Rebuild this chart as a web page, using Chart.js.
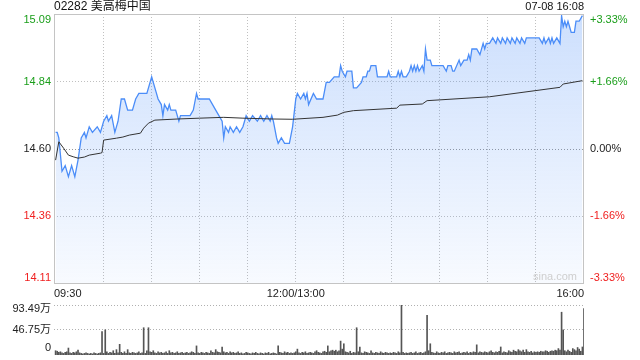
<!DOCTYPE html>
<html><head><meta charset="utf-8">
<script src="https://cdn.jsdelivr.net/npm/chart.js@4/dist/chart.umd.min.js"></script>
<style>
html,body{margin:0;padding:0;background:#fff;width:640px;height:360px;overflow:hidden;}
#c1{position:absolute;left:0;top:0;}
#c2{position:absolute;left:0;top:300px;}
</style></head><body>
<canvas id="c1" width="640" height="300"></canvas>
<canvas id="c2" width="640" height="60"></canvas>
<script>
const title = "02282 美高梅中国";
const stamp = "07-08 16:08";
const prevClose = 14.60;
const priceMin = 14.114, priceMax = 15.086;
const leftTickValues = [15.09, 14.84, 14.60, 14.36, 14.11];
const leftTickLabels = ["15.09", "14.84", "14.60", "14.36", "14.11"];
const rightTickLabels = ["+3.33%", "+1.66%", "0.00%", "-1.66%", "-3.33%"];
const timeLabels = ["09:30", "12:00/13:00", "16:00"];
const timeLabelMinutes = [0, 150, 330];
const volTickValues = [93.49, 46.75, 0];
const volTickLabels = ["93.49万", "46.75万", "0"];

const priceTimes = [0,1,2,4,6,8,10,12,14,16,18,19,21,23,26,28,30,32,33,35,37,39,41,43,45,48,50,52,57,60,61,63,64,66,67,68,70,71,72,75,77,78,84,86,88,89,96,100,102,104,105,106,108,109,111,113,115,117,118,119,121,123,126,128,130,132,134,135,136,138,139,141,143,146,148,150,151,153,155,156,157,158,161,163,167,169,171,174,177,178,179,181,182,185,186,188,191,192,194,195,196,197,200,201,207,208,209,213,214,215,216,217,219,221,222,223,224,225,226,227,229,230,231,232,234,235,242,244,245,247,248,249,252,253,255,257,258,259,260,263,265,267,268,269,271,273,275,276,278,279,281,282,284,285,287,288,290,291,293,294,302,304,305,306,308,309,310,311,313,315,316,317,318,319,320,321,322,324,325,327,329];
const prices = [14.66,14.66,14.64,14.52,14.54,14.50,14.54,14.50,14.56,14.64,14.66,14.64,14.68,14.66,14.68,14.66,14.70,14.72,14.70,14.72,14.66,14.70,14.78,14.78,14.74,14.74,14.78,14.80,14.80,14.86,14.84,14.80,14.78,14.76,14.72,14.76,14.74,14.76,14.74,14.74,14.70,14.72,14.72,14.74,14.80,14.78,14.78,14.74,14.72,14.70,14.64,14.68,14.66,14.68,14.66,14.68,14.66,14.68,14.70,14.72,14.70,14.72,14.70,14.72,14.70,14.72,14.70,14.72,14.70,14.64,14.62,14.64,14.62,14.62,14.68,14.78,14.80,14.78,14.80,14.78,14.80,14.76,14.80,14.78,14.78,14.84,14.84,14.86,14.86,14.90,14.88,14.86,14.88,14.88,14.82,14.82,14.84,14.86,14.86,14.88,14.88,14.90,14.90,14.86,14.86,14.88,14.86,14.86,14.88,14.86,14.88,14.86,14.86,14.88,14.90,14.88,14.90,14.88,14.90,14.88,14.90,14.88,14.96,14.92,14.92,14.90,14.90,14.88,14.90,14.90,14.88,14.88,14.92,14.90,14.92,14.92,14.94,14.92,14.96,14.96,14.94,14.98,14.96,14.98,14.98,15.00,14.98,15.00,14.98,15.00,14.98,15.00,14.98,15.00,14.98,15.00,14.98,15.00,14.98,15.00,15.00,14.98,15.00,14.98,15.00,14.98,15.00,14.98,15.00,14.98,15.08,15.04,15.06,15.04,15.06,15.04,15.02,15.02,15.06,15.06,15.08];

const avgTimes = [0,2,5,8,11,14,18,21,28,29,30,38,42,46,53,55,58,62,76,90,105,117,136,148,167,176,180,186,213,215,229,232,271,315,317,329];
const avgPrices = [14.56,14.626,14.603,14.578,14.572,14.567,14.571,14.578,14.585,14.587,14.632,14.639,14.643,14.650,14.657,14.675,14.693,14.704,14.708,14.711,14.714,14.711,14.708,14.707,14.714,14.722,14.732,14.738,14.747,14.758,14.762,14.774,14.788,14.822,14.834,14.846];

const volumes = [
8,7,5,6,4,3,5,6,13,4,
3,5,4,6,9,4,3,2,3,4,
3,2,3,2,4,3,2,3,4,44,
3,47,6,3,5,4,8,3,10,4,
20,5,3,6,3,10,4,3,5,4,
3,4,6,3,4,51,3,8,51,6,
5,8,4,3,6,4,5,3,4,6,
3,8,4,5,3,4,6,3,4,5,
3,4,5,3,4,6,5,3,17,4,
3,5,4,3,5,4,3,8,5,4,
10,6,5,4,15,6,4,5,3,6,
4,5,3,4,6,3,4,2,3,5,
4,3,2,4,3,5,3,2,4,3,
2,4,3,5,2,3,4,3,2,17,
5,4,3,6,4,5,3,4,3,4,
6,11,4,3,5,4,6,3,4,5,
4,3,6,8,5,4,3,6,7,5,
17,6,8,9,7,9,6,8,26,11,
21,6,5,4,7,3,5,4,51,6,
15,4,3,6,5,4,3,8,4,3,
5,4,3,6,4,3,5,4,3,4,
3,5,4,3,6,4,93.49,5,3,4,
3,4,5,3,4,6,3,4,5,3,
4,6,74,8,21,5,4,3,6,4,
3,5,4,6,3,4,5,4,3,6,
4,5,6,3,4,5,4,6,3,5,
4,6,5,19,4,6,5,4,6,5,
4,6,8,5,4,6,5,7,15,4,
6,5,4,8,6,5,9,7,6,10,
8,6,9,5,10,6,5,7,4,6,
5,6,5,7,6,6,8,7,5,7,
8,7,9,8,12,9,80,47,8,6,
9,7,5,12,10,8,14,11,7,15,
87];

const FONT = "'Liberation Sans','Noto Sans CJK SC',Arial,sans-serif";
const GREEN = '#1a9e1a', RED = '#f02020', DARK = '#222';
const labelColors = [GREEN, GREEN, DARK, RED, RED];
const gridMinutes = [30,60,90,120,150,180,210,240,270,300];

const priceDataset = priceTimes.map((t,i)=>({x:t,y:prices[i]}));
const avgDataset = avgTimes.map((t,i)=>({x:t,y:avgPrices[i]}));
const volDataset = volumes.map((v,i)=>({x:i,y:v}));

const priceLabels = {
  id:'priceLabels',
  afterDraw(chart){
    const {ctx, chartArea:a, scales:{x,y}} = chart;
    ctx.save();
    ctx.strokeStyle = '#c4c4c4'; ctx.lineWidth = 1; ctx.setLineDash([]);
    ctx.strokeRect(Math.round(a.left)+0.5, Math.round(a.top)+0.5, Math.round(a.right-a.left)-1, Math.round(a.bottom-a.top)-1);
    ctx.font = '11px ' + FONT;
    ctx.textBaseline = 'middle';
    leftTickValues.forEach((v,i)=>{
      let py = y.getPixelForValue(v);
      py = Math.min(Math.max(py, a.top+6), a.bottom-6);
      ctx.fillStyle = labelColors[i];
      ctx.textAlign = 'right';
      ctx.fillText(leftTickLabels[i], a.left-3, py);
      ctx.textAlign = 'left';
      ctx.fillText(rightTickLabels[i], a.right+6, py);
    });
    ctx.fillStyle = '#222';
    timeLabelMinutes.forEach((m,i)=>{
      const px = x.getPixelForValue(m);
      const last = i===timeLabels.length-1;
      ctx.textAlign = i===0 ? 'left' : (last ? 'right' : 'center');
      ctx.fillText(timeLabels[i], i===0 ? a.left : (last ? a.right : px), a.bottom+10);
    });
    ctx.font = '12px ' + FONT;
    ctx.fillStyle = '#111';
    ctx.textAlign = 'left';
    ctx.fillText(title, a.left, 7);
    ctx.textAlign = 'right';
    ctx.font = '11px ' + FONT;
    ctx.fillText(stamp, a.right, 7);
    ctx.fillStyle = '#cfcfcf';
    ctx.fillText('sina.com', a.right-7, a.bottom-7);
    ctx.restore();
  }
};

new Chart(document.getElementById('c1'), {
  type:'line',
  data:{datasets:[
    {data:avgDataset, borderColor:'#333', borderWidth:1, pointRadius:0, fill:false, tension:0, order:0},
    {data:priceDataset, borderColor:'#4b8df8', borderWidth:1.3, pointRadius:0, tension:0, fill:'start', order:1,
     backgroundColor(ctx){
       const ca = ctx.chart.chartArea; if(!ca) return 'rgba(75,141,248,0.15)';
       const g = ctx.chart.ctx.createLinearGradient(0, ca.top, 0, ca.bottom);
       g.addColorStop(0,'rgba(75,141,248,0.28)'); g.addColorStop(1,'rgba(75,141,248,0.04)');
       return g;
     }}
  ]},
  options:{
    responsive:false, animation:false, devicePixelRatio:1,
    layout:{padding:{left:54,right:56,top:14,bottom:16}},
    plugins:{legend:{display:false}, tooltip:{enabled:false}},
    scales:{
      x:{type:'linear', min:-1, max:330,
         afterBuildTicks(s){ s.ticks = gridMinutes.map(v=>({value:v})); },
         ticks:{display:false}, border:{display:false, dash:[1,2]},
         grid:{color:'#c0c0c0', drawTicks:false, lineWidth:1}},
      y:{type:'linear', min:priceMin, max:priceMax,
         afterBuildTicks(s){ s.ticks = [14.357, prevClose, 14.843].map(v=>({value:v})); },
         ticks:{display:false}, border:{display:false, dash:[1,2]},
         grid:{color(c){ return c.tick && c.tick.value===prevClose ? '#999999' : '#c0c0c0'; }, drawTicks:false}}
    }
  },
  plugins:[priceLabels]
});

const volLabels = {
  id:'volLabels',
  afterDraw(chart){
    const {ctx, chartArea:a, scales:{y}} = chart;
    ctx.save();
    ctx.font = '11px ' + FONT;
    ctx.fillStyle = '#222';
    ctx.textAlign = 'right';
    ctx.textBaseline = 'middle';
    volTickValues.forEach((v,i)=>{
      let py = y.getPixelForValue(v);
      py = Math.min(Math.max(py, a.top+4), a.bottom-7);
      ctx.fillText(volTickLabels[i], a.left-3, py);
    });
    ctx.restore();
  }
};

new Chart(document.getElementById('c2'), {
  type:'bar',
  data:{datasets:[{data:volDataset, backgroundColor:'#555', barThickness:1, categoryPercentage:1, barPercentage:1}]},
  options:{
    responsive:false, animation:false, devicePixelRatio:1,
    layout:{padding:{left:54,right:56,top:5,bottom:5}},
    plugins:{legend:{display:false}, tooltip:{enabled:false}},
    scales:{
      x:{type:'linear', min:-1, max:330, offset:false, display:false},
      y:{type:'linear', min:0, max:93.49,
         afterBuildTicks(s){ s.ticks = [46.75, 93.49].map(v=>({value:v})); },
         ticks:{display:false}, border:{display:false, dash:[1,2]},
         grid:{color:'#b0b0b0', drawTicks:false}}
    }
  },
  plugins:[volLabels]
});
</script>
</body></html>
